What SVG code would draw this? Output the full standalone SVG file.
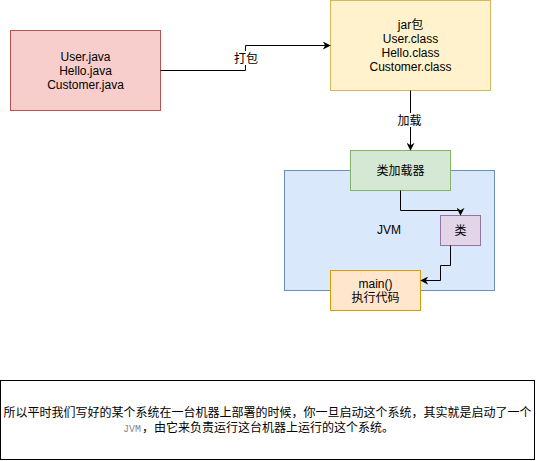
<svg xmlns="http://www.w3.org/2000/svg" width="536" height="461" viewBox="0 0 536 461">
<style>
text{font-family:"Liberation Sans","Noto Sans CJK SC",sans-serif;font-size:12px;fill:#000;text-anchor:middle}
.edge{fill:none;stroke:#000;stroke-width:1;marker-end:url(#arr)}
.lbl{fill:#fff;stroke:none}
.cjk{font-family:"Noto Sans CJK SC","Liberation Sans",sans-serif}
</style>
<defs>
<marker id="arr" viewBox="0 0 10 10" refX="9" refY="5" markerWidth="8" markerHeight="8" markerUnits="userSpaceOnUse" orient="auto">
<path d="M0,0 L10,5 L0,10 L3,5 Z" fill="#000"/>
</marker>
</defs>
<rect width="536" height="461" fill="#fff"/>
<g id="jvm">
<rect x="284.5" y="170.5" width="210" height="120" fill="#dae8fc" stroke="#6c8ebf"/>
<text x="389" y="234">JVM</text>
</g>
<g id="source">
<rect x="10.5" y="30.5" width="150" height="80" fill="#f8cecc" stroke="#b85450"/>
<text x="85.5" y="61">User.java</text>
<text x="85.5" y="75">Hello.java</text>
<text x="85.5" y="89">Customer.java</text>
</g>
<g id="jar">
<rect x="330.5" y="0.5" width="160" height="90" fill="#fff2cc" stroke="#d6b656"/>
<text x="410.5" y="29">jar包</text>
<text x="410.5" y="43">User.class</text>
<text x="410.5" y="57">Hello.class</text>
<text x="410.5" y="71">Customer.class</text>
</g>
<g id="classloader">
<rect x="350.5" y="150.5" width="100" height="40" fill="#d5e8d4" stroke="#82b366"/>
<text x="400.5" y="174.5">类加载器</text>
</g>
<g id="class">
<rect x="440.5" y="215.5" width="40" height="30" fill="#e1d5e7" stroke="#9673a6"/>
<text x="460.5" y="234.5">类</text>
</g>
<g id="main">
<rect x="330.5" y="270.5" width="90" height="40" fill="#ffe6cc" stroke="#d79b00"/>
<text x="375.5" y="287.5">main()</text>
<text x="375.5" y="302">执行代码</text>
</g>
<g id="connectors">
<path class="edge" d="M160.5,70.5 H245.5 V45.5 H330"/>
<rect class="lbl" x="234" y="51" width="24" height="14"/>
<text x="246" y="62.5">打包</text>
<path class="edge" d="M410.5,90.5 V150"/>
<rect class="lbl" x="397" y="113" width="25" height="14"/>
<text x="409.5" y="124.5">加载</text>
<path class="edge" d="M400.5,190.5 V210.5 H460.5 V215"/>
<path class="edge" d="M450.5,245.5 V265.5 H440.5 V280.5 H421"/>
</g>
<g id="note">
<rect x="0.5" y="380.5" width="534" height="79" fill="#fff" stroke="#000"/>
<text x="267.5" y="417" textLength="528" lengthAdjust="spacingAndGlyphs">所以平时我们写好的某个系统在一台机器上部署的时候，你一旦启动这个系统，其实就是启动了一个</text>
<text x="123" y="432" style="text-anchor:start"><tspan style="font-family:'Liberation Mono',monospace;font-size:10px;fill:#888">JVM</tspan><tspan x="142">，由它来负责运行这台机器上运行的这个系统。</tspan></text>
</g>
</svg>
